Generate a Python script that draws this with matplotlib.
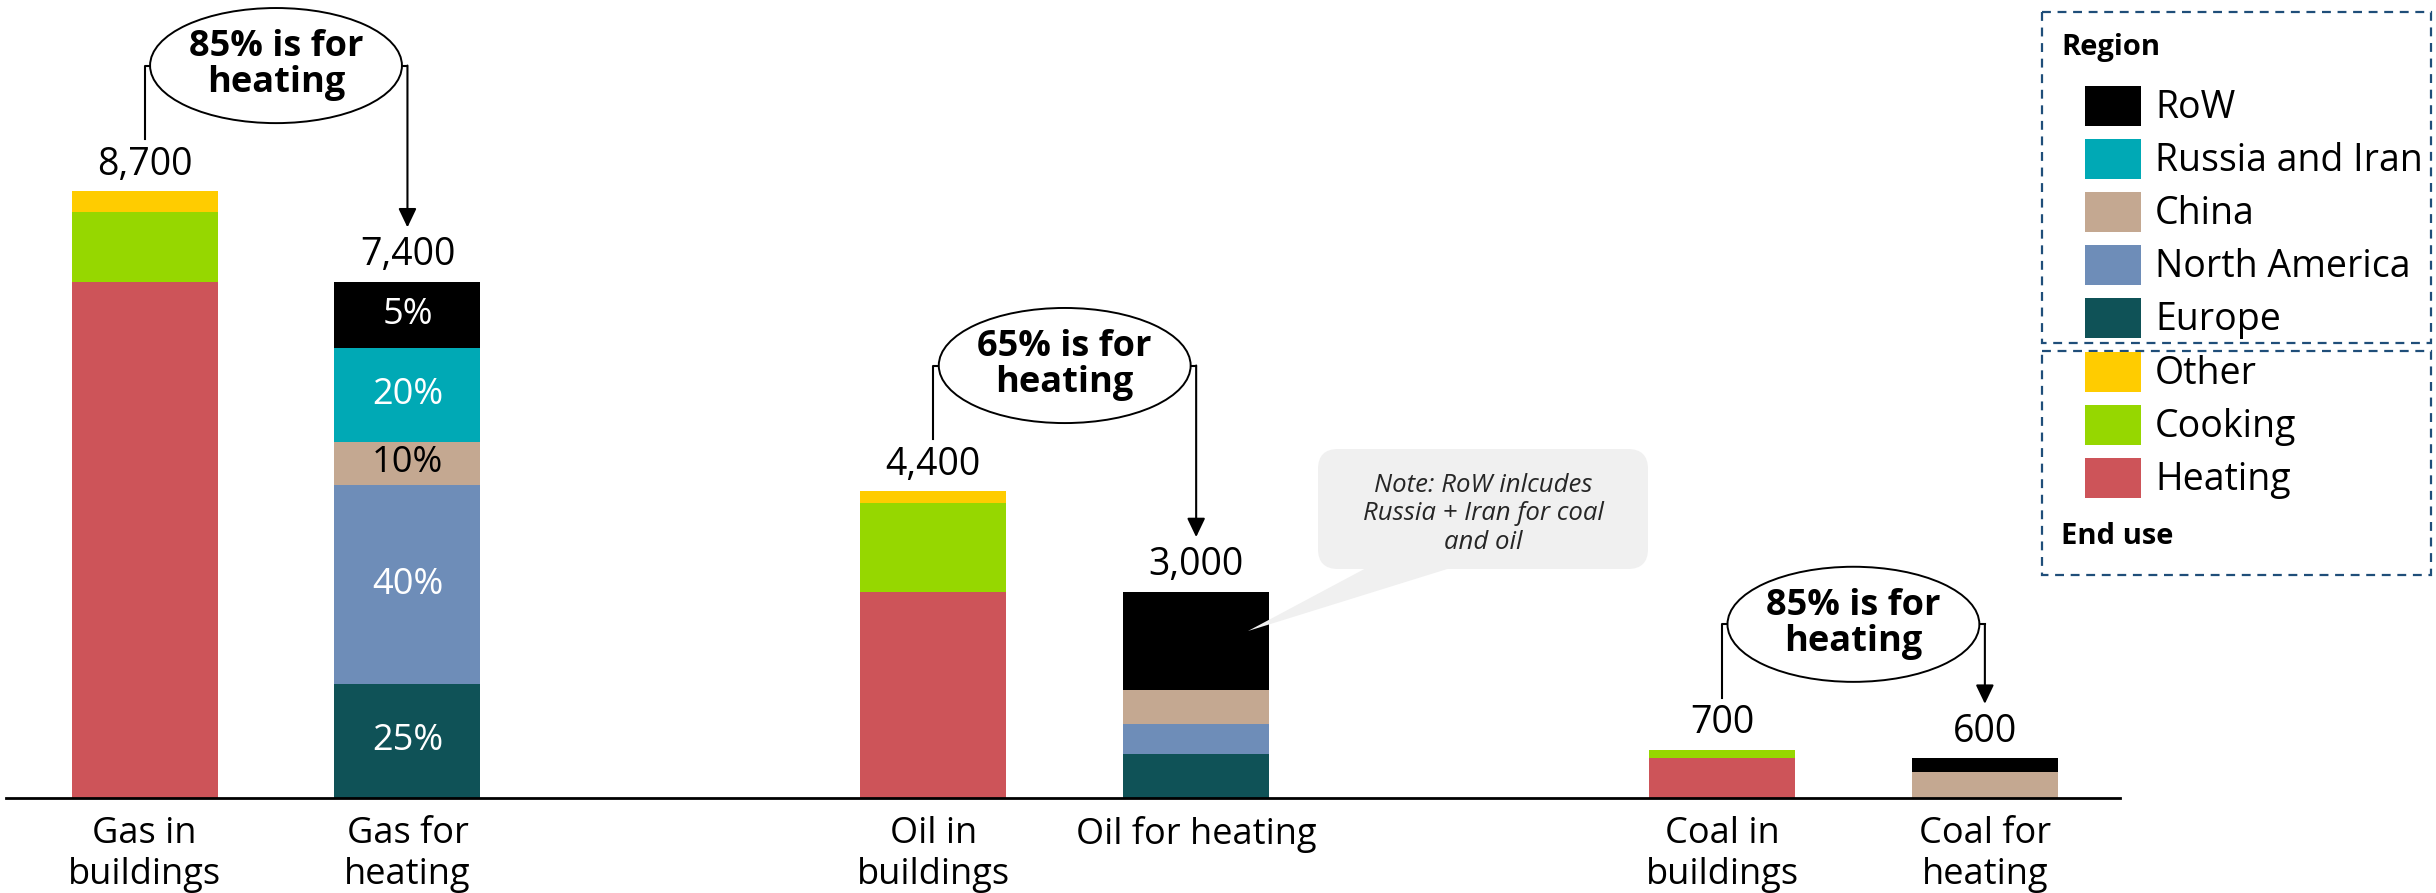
import numpy as np
import matplotlib
matplotlib.use('Agg')
import matplotlib.pyplot as plt
from matplotlib.patches import Ellipse, Rectangle, FancyBboxPatch, Polygon

plt.rcParams['font.family'] = ['Open Sans', 'DejaVu Sans']

# --- data -------------------------------------------------------------
bar_labels   = ['Gas in\nbuildings', 'Gas for\nheating', 'Oil in\nbuildings',
                'Oil for heating', 'Coal in\nbuildings', 'Coal for\nheating']
total_labels = ['8,700', '7,400', '4,400', '3,000', '700', '600']

# "in buildings" bars, split by end use (gas, oil, coal)
heating = np.array([7400, 2960, 580])
cooking = np.array([1000, 1270, 110])
other   = np.array([300, 170, 0])

# "for heating" bars, split by region (gas, oil, coal)
europe        = np.array([1630, 633, 0])
north_america = np.array([2857, 427, 0])
china         = np.array([620, 490, 370])
russia_iran   = np.array([1351, 0, 0])
row           = np.array([942, 1410, 200])
gas_region_pct = ['25%', '40%', '10%', '20%', '5%']

heating_share = ['85%', '65%', '85%']

end_use_names = ['Other', 'Cooking', 'Heating']
region_names  = ['RoW', 'Russia and Iran', 'China', 'North America', 'Europe']

colors = {
    'Heating': '#CD5459', 'Cooking': '#96D700', 'Other': '#FFCC00',
    'Europe': '#0F5257', 'North America': '#6E8DB8', 'China': '#C4A891',
    'Russia and Iran': '#00A9B5', 'RoW': '#000000',
}

# --- layout -----------------------------------------------------------
building_x = np.array([0, 3, 6])
heat_x     = building_x + 1
bar_w      = 0.555

fig = plt.figure(figsize=(24.36, 8.93), dpi=100)
ax = fig.add_axes([6 / 2436, 95 / 893, 2114 / 2436, 798 / 893])
ax.set_xlim(-0.527, 7.514)
ax.set_ylim(0, 11440)

bottom = np.zeros(3)
for name, vals in [('Heating', heating), ('Cooking', cooking), ('Other', other)]:
    ax.bar(building_x, vals, bar_w, bottom=bottom, color=colors[name], lw=0)
    bottom += vals
bld_tot = bottom.copy()

bottom = np.zeros(3)
regions = [('Europe', europe), ('North America', north_america), ('China', china),
           ('Russia and Iran', russia_iran), ('RoW', row)]
for (name, vals), pct in zip(regions, gas_region_pct):
    ax.bar(heat_x, vals, bar_w, bottom=bottom, color=colors[name], lw=0)
    ax.text(heat_x[0], bottom[0] + vals[0] / 2, pct, ha='center', va='center',
            fontsize=26, color='black' if name == 'China' else 'white')
    bottom += vals
heat_tot = bottom.copy()

xs = np.ravel(np.column_stack([building_x, heat_x]))
tops = np.ravel(np.column_stack([bld_tot, heat_tot]))
for x, top, lab in zip(xs, tops, total_labels):
    ax.annotate(lab, (x, top), xytext=(0, 19), textcoords='offset points',
                ha='center', va='center', fontsize=27)

# callout ellipses with bracket arrows
ell_w, ell_h = 0.958, 1650
for xl, xr, yl, yr, share in zip(building_x, heat_x, bld_tot, heat_tot, heating_share):
    xm = (xl + xr) / 2
    yc = yl + 1800
    ax.add_patch(Ellipse((xm, yc), ell_w, ell_h, fc='white', ec='black', lw=1.4, zorder=5))
    ax.text(xm, yc + 10, f'{share} is for\nheating', ha='center', va='center',
            fontsize=26, fontweight='bold', linespacing=1.0, zorder=6)
    ax.plot([xm - ell_w / 2, xl, xl], [yc, yc, yl + 750], color='black', lw=1.5, zorder=4)
    ax.plot([xm + ell_w / 2, xr], [yc, yc], color='black', lw=1.5, zorder=4)
    ax.annotate('', xy=(xr, yr + 780), xytext=(xr, yc),
                arrowprops=dict(arrowstyle='-|>,head_length=0.46,head_width=0.22',
                                mutation_scale=25, color='black', lw=1.5,
                                shrinkA=0, shrinkB=0), zorder=4)

ax.set_xticks(xs, bar_labels)
ax.tick_params(axis='x', length=0, pad=13, labelsize=26)
ax.tick_params(axis='y', left=False, labelleft=False)
for side in ['top', 'right', 'left']:
    ax.spines[side].set_visible(False)
ax.spines['bottom'].set_linewidth(2)

# --- overlay in pixel coordinates: note bubble and legend --------------
ov = fig.add_axes([0, 0, 1, 1])
ov.set_xlim(0, 2436)
ov.set_ylim(893, 0)
ov.axis('off')

note_bg = '#F0F0F0'
ov.add_patch(FancyBboxPatch((1318, 449), 330, 120, boxstyle='round,pad=0,rounding_size=20',
                            fc=note_bg, ec='none'))
ov.add_patch(Polygon([(1370, 566), (1457, 566), (1248, 631)], closed=True, fc=note_bg, ec='none'))
ov.text(1483, 514, 'Note: RoW inlcudes\nRussia + Iran for coal\nand oil', ha='center', va='center',
        fontsize=18.5, style='italic', color='#262626', linespacing=1.2)

box_kw = dict(fill=False, ec='#1F4E79', lw=1.6, ls=(0, (4, 3)))
ov.add_patch(Rectangle((2042, 12), 389, 331, **box_kw))
ov.add_patch(Rectangle((2042, 351), 389, 224, **box_kw))
ov.text(2061, 47, 'Region', fontsize=21, fontweight='bold', va='center')
ov.text(2061, 536, 'End use', fontsize=21, fontweight='bold', va='center')

legend_names = region_names + end_use_names
for i, name in enumerate(legend_names):
    y = 106 + 53.1 * i
    ov.add_patch(Rectangle((2085, y - 20), 56, 40, fc=colors[name], ec='none'))
    ov.text(2155, y + 2, name, fontsize=27, va='center')

fig.savefig('out.png', dpi=100)
